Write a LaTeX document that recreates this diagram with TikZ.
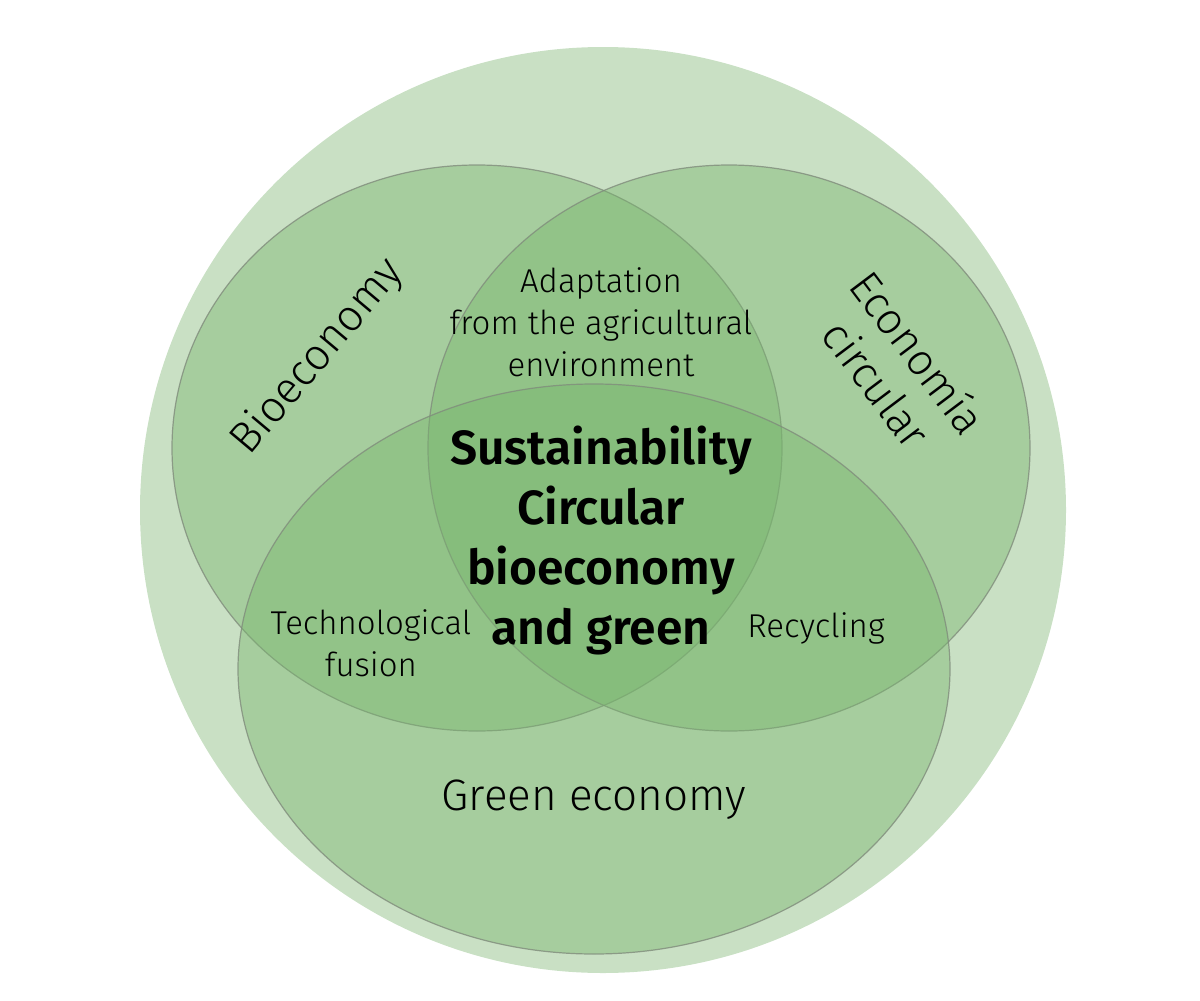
\documentclass[tikz,border=0pt]{standalone}
\usepackage{fontspec}
\setmainfont{Fira Sans Light}[BoldFont=Fira Sans SemiBold]
\usetikzlibrary{positioning}
\definecolor{outergreen}{RGB}{201,224,196}
\definecolor{setgreen}{RGB}{120,182,109}
\definecolor{setline}{RGB}{128,140,124}
\newlength{\bigsize}
\setlength{\bigsize}{22pt}

\begin{document}
\begin{tikzpicture}[x=0.5pt,y=-0.5pt]
  \tikzstyle{setfill}=[fill=setgreen,fill opacity=0.43,draw=setline,draw opacity=0.8,line width=0.6pt]
  \tikzstyle{setname}=[align=center,font=\fontsize{\bigsize}{26pt}\selectfont,inner sep=0pt]
  \tikzstyle{overlap}=[align=center,font=\fontsize{16.5pt}{21pt}\selectfont,inner sep=0pt]
  \tikzstyle{core}=[align=center,font=\fontsize{24pt}{30pt}\selectfont\bfseries,inner sep=0pt]
  \useasboundingbox (0,0) rectangle (1200,1001);
  % background circle
  \fill[outergreen] (603,510) circle[radius=463];
  % the three sets
  \draw[setfill] (477,448) ellipse[x radius=305,y radius=283];
  \draw[setfill] (729,448) ellipse[x radius=301,y radius=283];
  \draw[setfill] (594,669) ellipse[x radius=356,y radius=285];
  % labels
  \node[setname,rotate=50] (bio) at (318,357) {Bioeconomy};
  \node[setname,rotate=-53] (circ) at (898,368) {Economía\\circular};
  \node[setname] (green) at (594,800) {Green economy};
  \node[overlap] (adapt) at (601,322) {Adaptation\\from the agricultural\\environment};
  \node[overlap] (tech) at (371,643) {Technological\\fusion};
  \node[overlap] (recy) at (816,628) {Recycling};
  \node[core] (sust) at (601,541) {Sustainability\\Circular\\bioeconomy\\and green};
\end{tikzpicture}
\end{document}
